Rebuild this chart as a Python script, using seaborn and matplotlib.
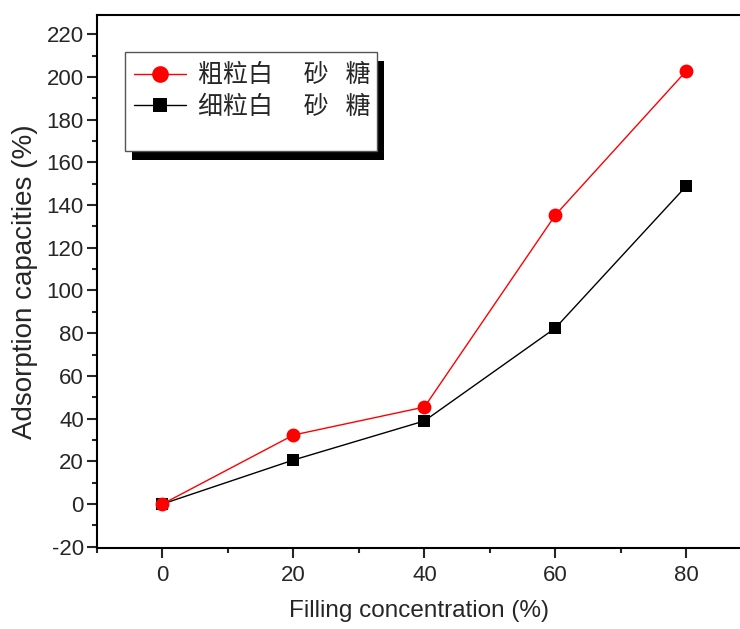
import matplotlib
matplotlib.use("Agg")
import matplotlib.pyplot as plt
import matplotlib.patches as mpatches
from matplotlib.ticker import MultipleLocator
from matplotlib.font_manager import FontProperties
import seaborn as sns

# values
concentration = [0, 20, 40, 60, 80]
coarse_sugar = [0, 32.3, 45.4, 135.3, 202.8]
fine_sugar = [0, 20.6, 38.9, 82.4, 148.9]
series_labels = ["粗粒白\u3000 砂   糖", "细粒白\u3000 砂   糖"]
x_ticks = [0, 20, 40, 60, 80]
y_ticks = list(range(-20, 221, 20))

sns.set_style("ticks")
plt.rcParams["font.family"] = ["Liberation Sans", "DejaVu Sans"]
plt.rcParams["axes.unicode_minus"] = False

fig = plt.figure(figsize=(7.4, 6.29), dpi=100)
ax = fig.add_axes([0.1311, 0.1288, 0.8689, 0.8474])

sns.lineplot(x=concentration, y=fine_sugar, ax=ax, color="black", marker="s",
             markersize=8, markeredgewidth=0, linewidth=1, label=series_labels[1],
             zorder=3)
sns.lineplot(x=concentration, y=coarse_sugar, ax=ax, color="red", marker="o",
             markersize=10, markeredgewidth=0, linewidth=1, label=series_labels[0],
             zorder=4)

ax.set_xlim(-10, 88.2)
ax.set_ylim(-20.6, 229)
ax.set_xticks(x_ticks)
ax.set_yticks(y_ticks)
ax.xaxis.set_minor_locator(MultipleLocator(10))
ax.yaxis.set_minor_locator(MultipleLocator(10))
ax.tick_params(which="major", direction="out", length=7.5, width=1.5,
               labelsize=16, top=False, right=False)
ax.tick_params(which="minor", direction="out", length=3.8, width=1.5,
               top=False, right=False)
ax.tick_params(axis="y", pad=2)
ax.tick_params(axis="x", pad=5)
for side in ["left", "bottom", "top"]:
    ax.spines[side].set_linewidth(1.5)
    ax.spines[side].set_color("black")
ax.spines["right"].set_visible(False)

ax.set_xlabel("Filling concentration (%)", fontsize=17.5, labelpad=10)
ax.set_ylabel("Adsorption capacities (%)", fontsize=20, labelpad=6)

# legend frame with a hard black shadow
shadow = mpatches.Rectangle((0.1784, 0.7456), 0.3405, 0.1574, transform=fig.transFigure,
                            facecolor="black", edgecolor="none", zorder=6, clip_on=False)
frame = mpatches.Rectangle((0.1689, 0.760), 0.3405, 0.1574, transform=fig.transFigure,
                           facecolor="white", edgecolor="#555555", linewidth=1,
                           zorder=7, clip_on=False)
ax.add_patch(shadow)
ax.add_patch(frame)

handles, labels = ax.get_legend_handles_labels()
leg = ax.legend(handles[::-1], labels[::-1], loc="upper left",
                bbox_to_anchor=(0.181, 0.901), bbox_transform=fig.transFigure,
                frameon=False, borderpad=0, borderaxespad=0, handlelength=2.1,
                handletextpad=0.45, labelspacing=0.22, markerscale=1.2,
                prop=FontProperties(family=["Noto Sans CJK SC", "DejaVu Sans"], size=18))
leg.set_zorder(8)

fig.savefig("out.png", dpi=100, facecolor="white")
